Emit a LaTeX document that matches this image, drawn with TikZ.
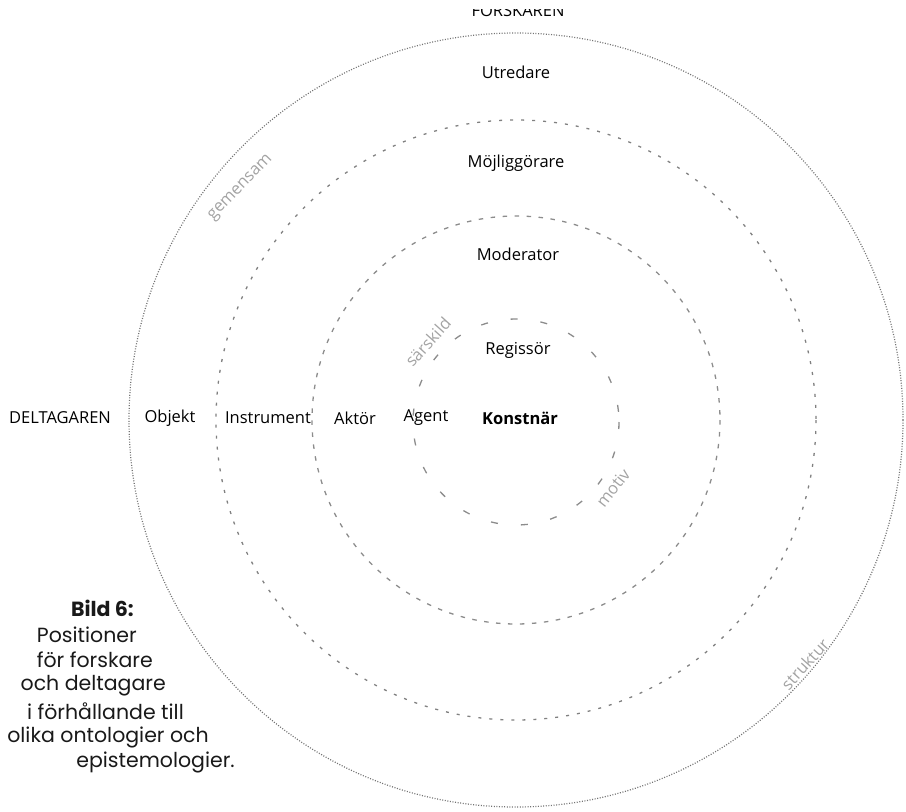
\documentclass[tikz,border=0pt]{standalone}
\usepackage{fontspec}
\setmainfont{Open Sans}
\newfontfamily\capfont{Poppins}
\begin{document}
\begin{tikzpicture}[x=1pt,y=-1pt,
  lbl/.style={font=\fontsize{16.5}{19}\selectfont, inner sep=0pt, text=black},
  gry/.style={font=\fontsize{16.5}{18}\selectfont, inner sep=0pt, text=black!36},
  captxt/.style={font=\capfont\fontsize{20.5}{22}\selectfont, inner sep=0pt, anchor=east, text=black!90},
  ring1/.style={draw=black!55, line width=1.2pt, dash pattern=on 1pt off 1.6pt},
  ring2/.style={draw=black!50, line width=1.3pt, dash pattern=on 3pt off 8pt},
  ring3/.style={draw=black!45, line width=1.3pt, dash pattern=on 4.5pt off 7.5pt},
  ring4/.style={draw=black!45, line width=1.3pt, dash pattern=on 7pt off 23pt}]
\useasboundingbox (0,0) rectangle (906,812);
\coordinate (c) at (516,420);
\draw[ring1] (c) circle[radius=387];
\draw[ring2] (c) circle[radius=300];
\draw[ring3] (c) circle[radius=204];
\draw[ring4] (516,422) circle[radius=103];

\begin{scope}
\clip (0,9.5) rectangle (906,40);
\node[lbl, anchor=base] (forskaren) at (518,16.5) {FORSKAREN};
\end{scope}

\node[lbl] (utredare) at (516,72) {Utredare};
\node[lbl] (mojl) at (516,163) {Möjliggörare};
\node[lbl] (moderator) at (518,254) {Moderator};
\node[lbl] (regissor) at (518,350) {Regissör};
\node[lbl, font=\fontsize{16.5}{19}\selectfont\bfseries] (konstnar) at (520,418) {Konstnär};
\node[lbl] (deltagaren) at (60,418) {DELTAGAREN};
\node[lbl] (objekt) at (170,418) {Objekt};
\node[lbl] (instrument) at (268,418) {Instrument};
\node[lbl] (aktor) at (355,418) {Aktör};
\node[lbl] (agent) at (426,418) {Agent};

\node[gry, rotate=46] (gemensam) at (241,188) {gemensam};
\node[gry, rotate=48] (sarskild) at (428,342) {särskild};
\node[gry, rotate=52] (motiv) at (613,488) {motiv};
\node[gry, rotate=48] (struktur) at (805,664) {struktur};

\node[captxt, font=\capfont\fontsize{20.5}{22}\selectfont\bfseries] (bild) at (134,608) {Bild 6:};
\node[captxt] (l1) at (137,635) {Positioner};
\node[captxt] (l2) at (153,660) {för forskare};
\node[captxt] (l3) at (166,686) {och deltagare};
\node[captxt] (l4) at (184,711) {i förhållande till};
\node[captxt] (l5) at (209,737) {olika ontologier och};
\node[captxt] (l6) at (235,762) {epistemologier.};
\end{tikzpicture}
\end{document}
